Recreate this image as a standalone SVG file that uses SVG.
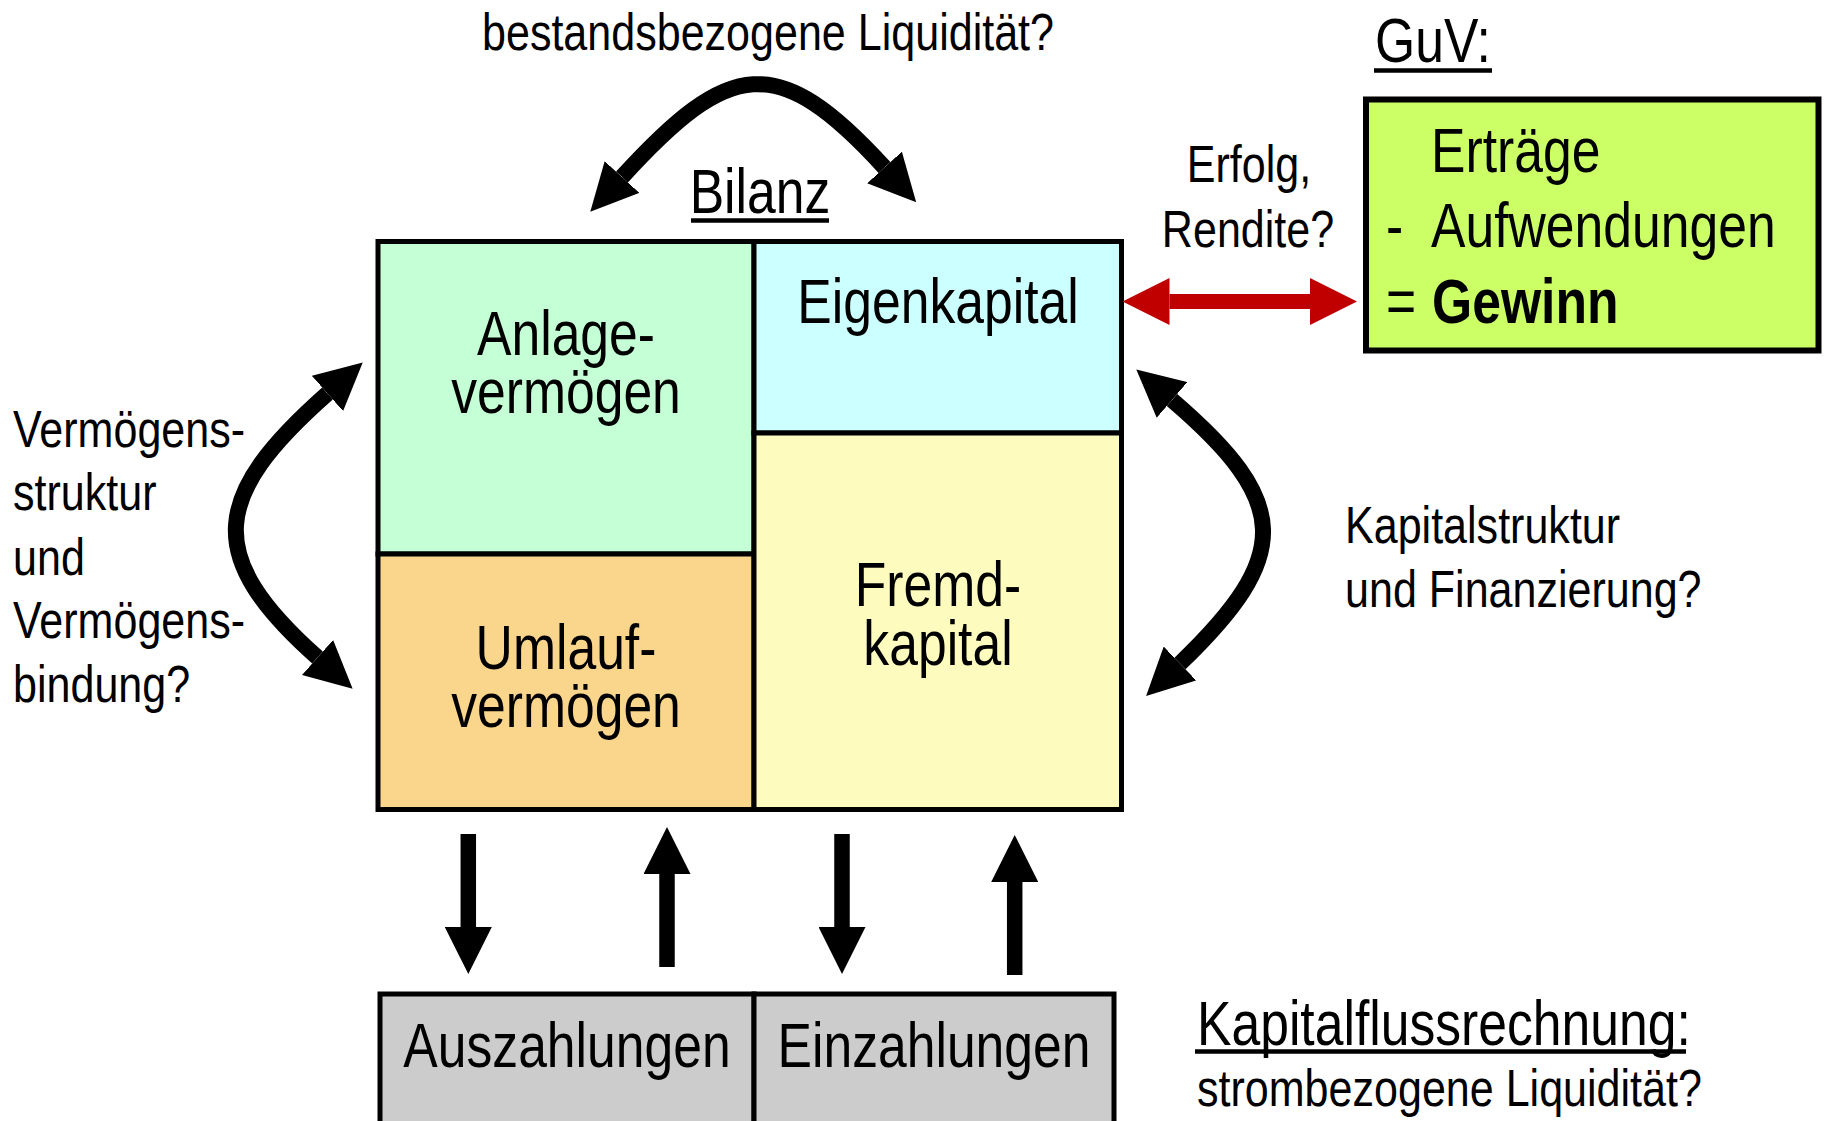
<svg xmlns="http://www.w3.org/2000/svg" width="1824" height="1121" viewBox="0 0 1824 1121">
<style>
text{font-family:"Liberation Sans",Arial,sans-serif;fill:#000}
.big{font-size:63px}
.small{font-size:52.5px}
.mid{text-anchor:middle}
.cell{stroke:#000;stroke-width:5}
.curve{fill:none;stroke:#000;stroke-width:16}
.straight{fill:none;stroke:#000;stroke-width:15.5}
.uline{stroke:#000;stroke-width:4.5}
</style>
<defs>
<marker id="ah" markerUnits="userSpaceOnUse" markerWidth="47" markerHeight="47" viewBox="0 0 47 47" refX="0" refY="23.5" orient="auto-start-reverse">
<path d="M0,0 L47,23.5 L0,47 z" fill="#000"/>
</marker>
<marker id="ahRed" markerUnits="userSpaceOnUse" markerWidth="47" markerHeight="47" viewBox="0 0 47 47" refX="0" refY="23.5" orient="auto-start-reverse">
<path d="M0,0 L47,23.5 L0,47 z" fill="#C00000"/>
</marker>
</defs>
<rect width="1824" height="1121" fill="#fff"/>

<g id="title-bilanz">
<text class="big mid" transform="translate(760,213) scale(0.82,1)">Bilanz</text>
<line class="uline" x1="691" y1="220.5" x2="829" y2="220.5"/>
</g>
<g id="label-bestand">
<text class="small mid" transform="translate(768,50) scale(0.82,1)">bestandsbezogene Liquidität?</text>
</g>

<g id="anlage">
<rect class="cell" x="378" y="241.5" width="376" height="312.5" fill="#C5FFD5"/>
<text class="big mid" transform="translate(566,355) scale(0.82,1)">Anlage-</text>
<text class="big mid" transform="translate(566,413) scale(0.82,1)">vermögen</text>
</g>
<g id="eigenkapital">
<rect class="cell" x="754" y="241.5" width="367.5" height="191.5" fill="#CCFFFF"/>
<text class="big mid" transform="translate(938,323) scale(0.82,1)">Eigenkapital</text>
</g>
<g id="umlauf">
<rect class="cell" x="378" y="554" width="376" height="255.5" fill="#FAD58C"/>
<text class="big mid" transform="translate(566,669) scale(0.82,1)">Umlauf-</text>
<text class="big mid" transform="translate(566,727) scale(0.82,1)">vermögen</text>
</g>
<g id="fremdkapital">
<rect class="cell" x="754" y="433" width="367.5" height="376.5" fill="#FDFCBE"/>
<text class="big mid" transform="translate(938,606) scale(0.82,1)">Fremd-</text>
<text class="big mid" transform="translate(938,665) scale(0.82,1)">kapital</text>
</g>

<g id="auszahlungen">
<rect class="cell" x="380" y="994" width="374" height="140" fill="#CCCCCC"/>
<text class="big mid" transform="translate(567,1067) scale(0.82,1)">Auszahlungen</text>
</g>
<g id="einzahlungen">
<rect class="cell" x="754" y="994" width="360" height="140" fill="#CCCCCC"/>
<text class="big mid" transform="translate(934,1067) scale(0.82,1)">Einzahlungen</text>
</g>

<g id="guv">
<text class="big" transform="translate(1375,62) scale(0.82,1)">GuV:</text>
<line class="uline" x1="1374" y1="70.5" x2="1492" y2="70.5"/>
<rect x="1366" y="99.5" width="452.5" height="251" fill="#CCFF66" stroke="#000" stroke-width="6"/>
<text class="big" transform="translate(1431,172) scale(0.82,1)">Erträge</text>
<text class="big" transform="translate(1386,247) scale(0.82,1)">-</text>
<text class="big" transform="translate(1431,247) scale(0.82,1)">Aufwendungen</text>
<text class="big" transform="translate(1386,323) scale(0.82,1)">=</text>
<text class="big" transform="translate(1432,323) scale(0.82,1)" font-weight="bold">Gewinn</text>
</g>

<g id="label-erfolg">
<text class="small mid" transform="translate(1249,182) scale(0.82,1)">Erfolg,</text>
<text class="small mid" transform="translate(1248,247) scale(0.82,1)">Rendite?</text>
</g>

<g id="label-vermoegen">
<text class="small" transform="translate(13,447) scale(0.82,1)">Vermögens-</text>
<text class="small" transform="translate(13,510) scale(0.82,1)">struktur</text>
<text class="small" transform="translate(13,575) scale(0.82,1)">und</text>
<text class="small" transform="translate(13,638) scale(0.82,1)">Vermögens-</text>
<text class="small" transform="translate(13,702) scale(0.82,1)">bindung?</text>
</g>

<g id="label-kapitalstruktur">
<text class="small" transform="translate(1345,543) scale(0.82,1)">Kapitalstruktur</text>
<text class="small" transform="translate(1345,607) scale(0.82,1)">und Finanzierung?</text>
</g>

<g id="label-kapitalfluss">
<text class="big" transform="translate(1197,1045) scale(0.82,1)">Kapitalflussrechnung:</text>
<line class="uline" x1="1195" y1="1051.5" x2="1686" y2="1051.5"/>
<text class="small" transform="translate(1197,1106) scale(0.82,1)">strombezogene Liquidität?</text>
</g>

<g id="connectors">
<path class="curve" d="M622,177 C729.3,59.7 777.3,50.2 884.5,167.5" marker-start="url(#ah)" marker-end="url(#ah)"/>
<path class="curve" d="M327.5,393.5 C212,495.5 202.3,555.2 317.5,657.5" marker-start="url(#ah)" marker-end="url(#ah)"/>
<path class="curve" d="M1172,400 C1291,502 1293,555 1180,663.5" marker-start="url(#ah)" marker-end="url(#ah)"/>
<path d="M1169.5,301.5 L1310,301.5" fill="none" stroke="#C00000" stroke-width="15" marker-start="url(#ahRed)" marker-end="url(#ahRed)"/>
<path class="straight" d="M468.3,834 L468.3,927" marker-end="url(#ah)"/>
<path class="straight" d="M667,967 L667,874" marker-end="url(#ah)"/>
<path class="straight" d="M842,834 L842,927" marker-end="url(#ah)"/>
<path class="straight" d="M1014.7,975 L1014.7,882" marker-end="url(#ah)"/>
</g>
</svg>
